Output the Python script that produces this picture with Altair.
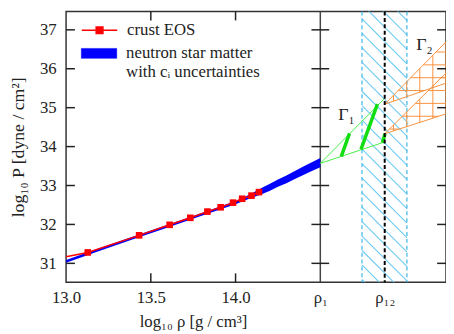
import altair as alt
import pandas as pd

# ---------------- data ----------------
crust_x = [13.128, 13.431, 13.611, 13.733, 13.834, 13.912, 13.985, 14.039, 14.094, 14.138]
crust_y = [31.28, 31.72, 31.99, 32.17, 32.33, 32.44, 32.56, 32.66, 32.74, 32.83]
crust_line_x = [13.0] + crust_x
crust_line_y = [31.17] + crust_y

band_x = [13.0, 13.2, 13.4, 13.6, 13.8, 14.0, 14.05, 14.1, 14.15, 14.2, 14.25, 14.3, 14.35, 14.4, 14.45, 14.5]
band_lo = [31.015, 31.325, 31.625, 31.92, 32.225, 32.52, 32.61, 32.69, 32.77, 32.86, 32.965, 33.06, 33.165, 33.27, 33.37, 33.47]
band_hi = [31.085, 31.395, 31.695, 31.99, 32.295, 32.60, 32.70, 32.81, 32.93, 33.04, 33.155, 33.26, 33.375, 33.49, 33.60, 33.71]

rho1 = 14.5
rho12 = 14.88
x_min, x_max = 13.0, 15.2416
y_min, y_max = 30.515, 37.47

# Gamma1 region (green)
green_edge_x = [14.88, 14.5, 14.88]
green_edge_y = [35.24, 33.57, 34.12]
green_thick_x = [14.624, 14.740, 14.866]
green_thick_x2 = [14.672, 14.837, 14.882]
green_thick_y = [33.75, 33.93, 34.10]
green_thick_y2 = [34.34, 35.09, 34.33]

# Gamma2 region (orange): two wedges starting at rho12
orange_start_y = [35.09, 34.33]
orange_end_upper = [36.69, 35.89]
orange_end_lower = [35.63, 34.84]
orange_grid_x = [14.932, 15.010, 15.087, 15.164, 15.2416]
orange_grid_y = [34.45, 34.78, 35.11, 35.44, 35.77, 36.10, 36.43]

# cyan band around rho12
cyan_lo, cyan_hi = 14.746, 15.011

gamma_labels = ["Γ₁", "Γ₂"]
gamma_x = [14.655, 15.115]
gamma_y = [34.82, 36.6]

y_ticks = [31, 32, 33, 34, 35, 36, 37]
x_inner_ticks = [13.5, 14.0]

crust_name = "crust EOS"
band_name = "neutron star matter"

# ---------------- chart ----------------
SERIF = "Liberation Serif"
TXT = "#222222"

xscale = alt.Scale(domain=[x_min, x_max], nice=False, zero=False)
yscale = alt.Scale(domain=[y_min, y_max], nice=False, zero=False)

xaxis = alt.Axis(
    values=[13.0, 13.5, 14.0, rho1, rho12],
    labelExpr="datum.value == 14.5 ? 'ρ₁' : (datum.value == 14.88 ? 'ρ₁₂' : format(datum.value, '.1f'))",
    ticks=False, domain=False, grid=False, labelFlush=False, labelOverlap=False,
    labelFont=SERIF, labelFontSize=17, labelColor=TXT, labelPadding=8,
    title="log₁₀ ρ  [g / cm³]", titleFont=SERIF, titleFontSize=17, titleFontWeight="normal",
    titleColor=TXT, titleX=129, titlePadding=8,
)
yaxis = alt.Axis(
    values=y_ticks, format="d",
    ticks=False, domain=False, grid=False, labelFlush=False, labelOverlap=False,
    labelFont=SERIF, labelFontSize=17, labelColor=TXT, labelPadding=10,
    title="log₁₀  P  [dyne  /  cm²]", titleFont=SERIF, titleFontSize=18, titleFontWeight="normal",
    titleColor=TXT, titlePadding=12,
)


def X(f="x"):
    return alt.X(f"{f}:Q", scale=xscale, axis=xaxis)


def Y(f="y"):
    return alt.Y(f"{f}:Q", scale=yscale, axis=yaxis)


# cyan hatch strokes (pattern), 45 degrees in pixel space, split at rho12
slope = -(386 / (x_max - x_min)) / (275 / (y_max - y_min))
hatch = []
yy = y_max + 1.3
while yy > y_min:
    ym = yy + slope * (rho12 - cyan_lo)
    hatch.append(dict(x=cyan_lo, y=yy, x2=rho12, y2=ym))
    hatch.append(dict(x=rho12, y=ym, x2=cyan_hi, y2=yy + slope * (cyan_hi - cyan_lo)))
    yy -= 0.372
hatch_df = pd.DataFrame(hatch)

# orange cross hatch clipped to the wedges
orange_rows = []
for ys, yu, yl in zip(orange_start_y, orange_end_upper, orange_end_lower):
    su = (yu - ys) / (x_max - rho12)
    sl = (yl - ys) / (x_max - rho12)
    orange_rows.append(dict(x=rho12, y=ys, x2=x_max, y2=yu))
    orange_rows.append(dict(x=rho12, y=ys, x2=x_max, y2=yl))
    for gx in orange_grid_x:
        if rho12 < gx <= x_max:
            orange_rows.append(dict(x=gx, y=ys + sl * (gx - rho12), x2=gx, y2=ys + su * (gx - rho12)))
    for gy in orange_grid_y:
        if gy > ys:
            xa = rho12 + (gy - ys) / su
            xb = min(x_max, rho12 + (gy - ys) / sl)
            if xa < xb:
                orange_rows.append(dict(x=xa, y=gy, x2=xb, y2=gy))
orange_df = pd.DataFrame(orange_rows)

band_df = pd.DataFrame(dict(x=band_x, y=band_lo, y2=band_hi, series=band_name))
crust_line_df = pd.DataFrame(dict(x=crust_line_x, y=crust_line_y, series=crust_name))
crust_pts_df = pd.DataFrame(dict(x=crust_x, y=crust_y))
green_edge_df = pd.DataFrame(dict(x=green_edge_x, y=green_edge_y, o=list(range(3))))
green_thick_df = pd.DataFrame(dict(x=green_thick_x, x2=green_thick_x2, y=green_thick_y, y2=green_thick_y2))
gamma_df = pd.DataFrame(dict(x=gamma_x, y=gamma_y, t=gamma_labels))
xtick_df = pd.DataFrame(dict(x=x_inner_ticks))

legend_common = dict(
    orient="none", title=None, padding=0,
    labelFont=SERIF, labelFontSize=17, labelColor=TXT, labelOffset=9, labelLimit=400,
    symbolSize=1296, symbolOpacity=1,
)

stroke_enc = alt.Stroke(
    "series:N",
    scale=alt.Scale(domain=[crust_name], range=["#ff0000"]),
    legend=alt.Legend(
        legendX=15, legendY=0,
        symbolType="M-1,0H1M-0.19,-0.19H0.19V0.19H-0.19Z",
        symbolFillColor="#ff0000", symbolStrokeColor="#ff0000", symbolStrokeWidth=1.5,
        **legend_common,
    ),
)
fill_enc = alt.Fill(
    "series:N",
    scale=alt.Scale(domain=[band_name], range=["#0000ff"]),
    legend=alt.Legend(
        legendX=15, legendY=24,
        symbolType="M-1,-0.28H1V0.28H-1Z",
        symbolFillColor="#0000ff", symbolStrokeColor="#0000ff", symbolStrokeWidth=0.5,
        labelExpr="['neutron star matter', 'with cᵢ uncertainties']",
        **legend_common,
    ),
)

layers = []
# rho1 solid line
layers.append(alt.Chart(pd.DataFrame(dict(x=[rho1]))).mark_rule(color="#444444", strokeWidth=1.5).encode(x=X()))
# cyan hatch band
layers.append(alt.Chart(hatch_df).mark_rule(color="#6ccaf2", strokeWidth=1.1, clip=True).encode(
    x=X(), y=Y(), x2="x2:Q", y2="y2:Q"))
layers.append(alt.Chart(pd.DataFrame(dict(x=[cyan_lo, cyan_hi]))).mark_rule(
    color="#38b6e8", strokeWidth=1.2, strokeDash=[4, 3]).encode(x=X()))
# blue band
layers.append(alt.Chart(band_df).mark_area(opacity=1).encode(x=X(), y=Y(), y2="y2:Q", fill=fill_enc))
# crust EOS
layers.append(alt.Chart(crust_line_df).mark_line(strokeWidth=1.5).encode(x=X(), y=Y(), stroke=stroke_enc))
layers.append(alt.Chart(crust_pts_df).mark_square(size=45, opacity=1, color="#ff0000").encode(x=X(), y=Y()))
# green region
layers.append(alt.Chart(green_edge_df).mark_line(color="#44ee44", strokeWidth=1).encode(x=X(), y=Y(), order="o:Q"))
layers.append(alt.Chart(green_thick_df).mark_rule(color="#11dd11", strokeWidth=3.5).encode(
    x=X(), y=Y(), x2="x2:Q", y2="y2:Q"))
# orange region
layers.append(alt.Chart(orange_df).mark_rule(color="#f9913e", strokeWidth=1, clip=True).encode(
    x=X(), y=Y(), x2="x2:Q", y2="y2:Q"))
# rho12 dashed line
layers.append(alt.Chart(pd.DataFrame(dict(x=[rho12]))).mark_rule(
    color="#000000", strokeWidth=2, strokeDash=[4, 2.5]).encode(x=X()))
# Gamma labels
layers.append(alt.Chart(gamma_df).mark_text(font=SERIF, fontSize=18, color=TXT).encode(x=X(), y=Y(), text="t:N"))
# inner ticks
tick_x_edges = pd.DataFrame(dict(y=y_ticks * 3,
                                 x=[x_min] * 7 + [rho1] * 7 + [x_max] * 7,
                                 x2=[x_min] * 7 + [rho1] * 7 + [x_max] * 7,
                                 k=["l"] * 7 + ["m"] * 7 + ["r"] * 7))
layers.append(alt.Chart(tick_x_edges[tick_x_edges.k == "l"]).mark_rule(
    color="#222222", strokeWidth=1.5, x2Offset=9).encode(y=Y(), x=X(), x2="x2:Q"))
layers.append(alt.Chart(tick_x_edges[tick_x_edges.k == "m"]).mark_rule(
    color="#222222", strokeWidth=1.5, xOffset=-9, x2Offset=9).encode(y=Y(), x=X(), x2="x2:Q"))
layers.append(alt.Chart(tick_x_edges[tick_x_edges.k == "r"]).mark_rule(
    color="#222222", strokeWidth=1.5, x2Offset=-9).encode(y=Y(), x=X(), x2="x2:Q"))
layers.append(alt.Chart(xtick_df).mark_rule(color="#222222", strokeWidth=1.5).encode(
    x=X(), y=alt.value(275), y2=alt.value(266)))
layers.append(alt.Chart(xtick_df).mark_rule(color="#222222", strokeWidth=1.5).encode(
    x=X(), y=alt.value(0), y2=alt.value(9)))

chart = alt.layer(*layers).properties(
    width=386, height=275,
    autosize=alt.AutoSizeParams(type="none"),
    padding={"left": 59, "top": 1, "right": 0, "bottom": 50},
    background="white",
).resolve_scale(fill="independent", stroke="independent").configure_view(
    stroke="#333333", strokeWidth=1.5)

chart.save("out.html", embed_options={"renderer": "svg", "actions": False})
